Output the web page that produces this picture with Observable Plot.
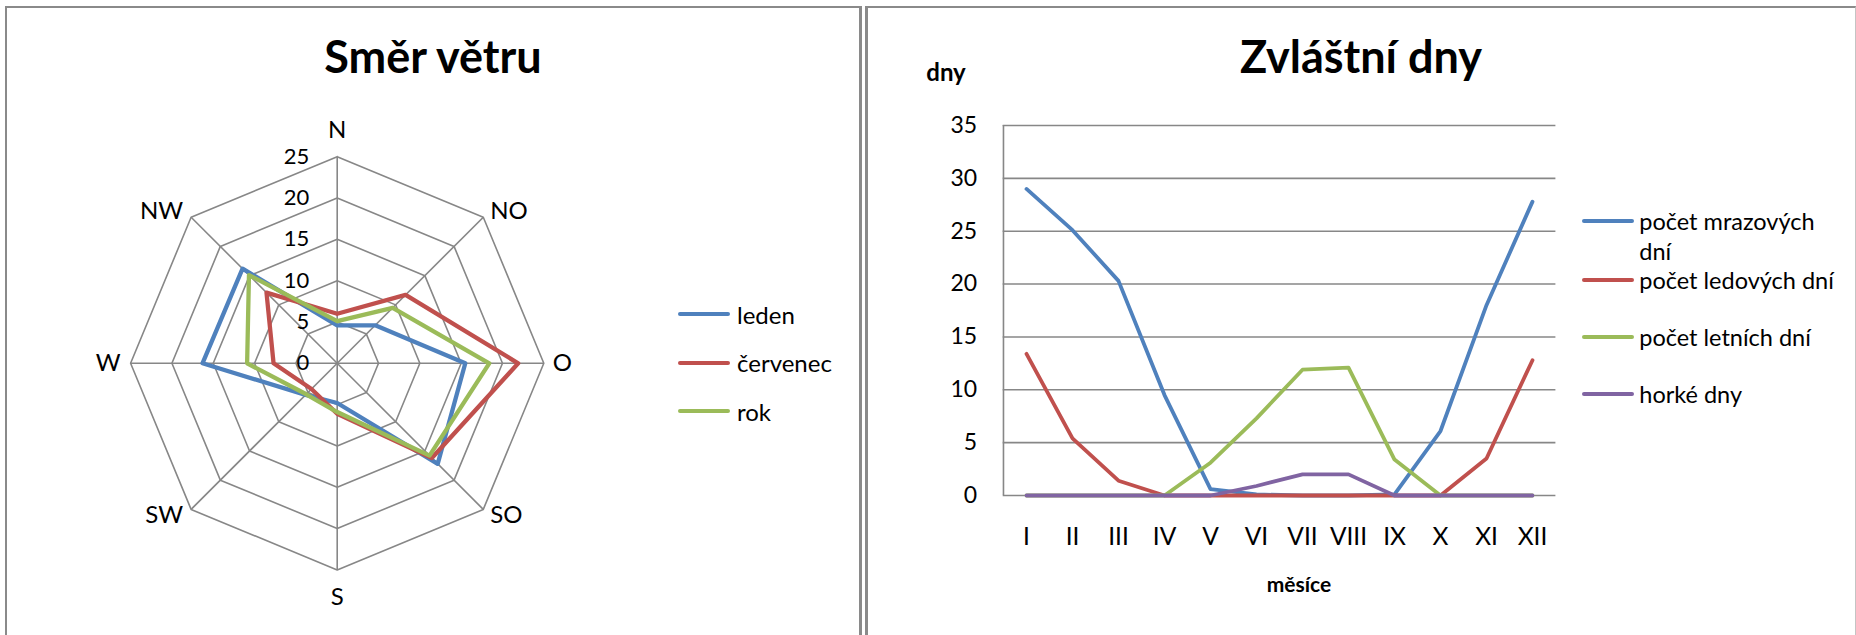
<!DOCTYPE html>
<html>
<head>
<meta charset="utf-8">
<script src="https://cdn.jsdelivr.net/npm/d3@7"></script>
<script src="https://cdn.jsdelivr.net/npm/@observablehq/plot@0.6"></script>
<style>
  html, body { margin: 0; padding: 0; background: #fff; }
  #root { position: relative; width: 1856px; height: 635px; overflow: hidden; background: #fff; font-family: Lato, "Open Sans", sans-serif; color: #000; }
  .panel { position: absolute; box-sizing: border-box; }
  .abs { position: absolute; white-space: nowrap; }
  .title { font-weight: 700; font-size: 45px; line-height: 1.2; transform: translate(-50%, -50%); }
  .lbl { font-size: 24px; }
  .leg { position: absolute; display: flex; align-items: center; }
  .leg .sw { width: 52px; height: 4px; border-radius: 2px; margin-right: 7px; flex: none; }
  svg text { font-family: Lato, "Open Sans", sans-serif; }
</style>
</head>
<body>
<div id="root"></div>
<script>
// ---------- data: radar ("Směr větru") ----------
const directions = ["N", "NO", "O", "SO", "S", "SW", "W", "NW"];
const leden    = [4.6, 6.5, 15.5, 17.2, 4.8, 5.4, 16.3, 16.2];
const cervenec = [6.0, 11.7, 21.9, 16.2, 6.1, 4.4, 7.7, 12.1];
const rok      = [5.1, 9.5, 18.4, 15.8, 5.9, 5.3, 10.9, 15.1];
const radarSeries = ["leden", "červenec", "rok"];
const radarColors = ["#4F81BD", "#C0504D", "#9BBB59"];
const radarTicks = [0, 5, 10, 15, 20, 25];

// ---------- data: line chart ("Zvláštní dny") ----------
const months  = ["I", "II", "III", "IV", "V", "VI", "VII", "VIII", "IX", "X", "XI", "XII"];
const mrazove = [29.0, 25.1, 20.3, 9.5, 0.6, 0.1, 0, 0, 0.1, 6.1, 18.0, 27.8];
const ledove  = [13.4, 5.4, 1.4, 0, 0, 0, 0, 0, 0, 0, 3.5, 12.8];
const letni   = [0, 0, 0, 0, 3.1, 7.3, 11.9, 12.1, 3.4, 0, 0, 0];
const horke   = [0, 0, 0, 0, 0, 0.9, 2.0, 2.0, 0, 0, 0, 0];
const lineSeries = ["počet mrazových dní", "počet ledových dní", "počet letních dní", "horké dny"];
const lineColors = ["#4F81BD", "#C0504D", "#9BBB59", "#8064A2"];
const yTicks = [0, 5, 10, 15, 20, 25, 30, 35];

const root = document.getElementById("root");
const GRID = "#878787";

function addEl(html) {
  const t = document.createElement("div");
  t.innerHTML = html.trim();
  const el = t.firstChild;
  root.appendChild(el);
  return el;
}

// panel frames
addEl(`<div class="panel" style="left:5px;top:6px;width:857px;height:700px;border-left:2px solid #8a8a8a;border-top:2px solid #8a8a8a;border-right:3px solid #8a8a8a;"></div>`);
addEl(`<div class="panel" style="left:865px;top:6px;width:991px;height:700px;border-left:3px solid #8a8a8a;border-top:2px solid #8a8a8a;border-right:1px solid #c4c4c4;"></div>`);

// ---------- radar ----------
const ang = i => i * Math.PI / 4;
const seriesValues = [leden, cervenec, rok];
const radarRows = [];
seriesValues.forEach((vals, s) => {
  for (let k = 0; k <= directions.length; k++) {
    const i = k % directions.length;
    radarRows.push({series: radarSeries[s], dir: directions[i], v: vals[i], x: vals[i] * Math.sin(ang(i)), y: vals[i] * Math.cos(ang(i))});
  }
});
const ringRows = [];
radarTicks.filter(t => t > 0).forEach(t => {
  for (let k = 0; k <= directions.length; k++) {
    const i = k % directions.length;
    ringRows.push({level: t, x: t * Math.sin(ang(i)), y: t * Math.cos(ang(i))});
  }
});
const maxTick = radarTicks[radarTicks.length - 1];
const spokes = directions.map((d, i) => ({dir: d, x: maxTick * Math.sin(ang(i)), y: maxTick * Math.cos(ang(i))}));

const labelAt = (names, opts) => Plot.text(spokes.filter(s => names.includes(s.dir)), {x: "x", y: "y", text: "dir", fontSize: 24, fill: "#000", ...opts});

const radar = Plot.plot({
  width: 870, height: 635,
  marginLeft: 130.1, marginRight: 326.7, marginTop: 156.2, marginBottom: 65.6,
  x: {domain: [-25, 25], axis: null},
  y: {domain: [-25, 25], axis: null},
  color: {domain: radarSeries, range: radarColors},
  marks: [
    Plot.line(ringRows, {x: "x", y: "y", z: "level", stroke: GRID, strokeWidth: 1.6}),
    Plot.link(spokes, {x1: () => 0, y1: () => 0, x2: "x", y2: "y", stroke: GRID, strokeWidth: 1.6}),
    Plot.line(radarRows, {x: "x", y: "y", z: "series", stroke: "series", strokeWidth: 4.3, strokeLinejoin: "round", strokeLinecap: "round"}),
    Plot.text(radarTicks, {x: () => 0, y: d => d, text: d => String(d), textAnchor: "end", dx: -28, fontSize: 22, fill: "#000"}),
    labelAt(["N"], {dy: -26.5}),
    labelAt(["S"], {dy: 27}),
    labelAt(["O"], {textAnchor: "start", dx: 9}),
    labelAt(["W"], {textAnchor: "end", dx: -10}),
    labelAt(["NO"], {textAnchor: "start", dx: 7, dy: -6}),
    labelAt(["SO"], {textAnchor: "start", dx: 7, dy: 6}),
    labelAt(["NW"], {textAnchor: "end", dx: -8, dy: -6}),
    labelAt(["SW"], {textAnchor: "end", dx: -8, dy: 6})
  ]
});
radar.style.position = "absolute";
radar.style.left = "0px";
radar.style.top = "0px";
radar.style.background = "transparent";
root.appendChild(radar);

addEl(`<div class="abs title" style="left:433px;top:56px;">Směr větru</div>`);

// radar legend
const radarLegY = [314, 362.5, 411];
radarSeries.forEach((s, i) => {
  addEl(`<div class="leg lbl" style="left:678px;top:${radarLegY[i] - 16}px;height:32px;"><span class="sw" style="background:${radarColors[i]}"></span><span>${s}</span></div>`);
});

// ---------- line chart ----------
const lineValues = [mrazove, ledove, letni, horke];
const lineRows = [];
lineValues.forEach((vals, s) => vals.forEach((v, i) => lineRows.push({series: lineSeries[s], month: months[i], value: v})));
const plotW = 990, mL = 136.7, mR = 300.6;
const step = (plotW - mL - mR) / months.length;

const lineChart = Plot.plot({
  width: plotW, height: 635,
  marginLeft: mL, marginRight: mR, marginTop: 125, marginBottom: 140,
  x: {type: "point", domain: months, padding: 0.5, axis: null},
  y: {domain: [0, 35], axis: null},
  color: {domain: lineSeries, range: lineColors},
  marks: [
    Plot.ruleY(yTicks, {stroke: GRID, strokeWidth: 1.6}),
    Plot.ruleX([months[0]], {dx: -step / 2, stroke: GRID, strokeWidth: 1.6}),
    Plot.axisY({ticks: yTicks, tickSize: 0, tickPadding: 26, fontSize: 23, label: null, fill: "#000"}),
    Plot.axisX({tickSize: 0, tickPadding: 0, dy: 41.7, lineAnchor: "middle", fontSize: 24.5, label: null, fill: "#000"}),
    Plot.line(lineRows, {x: "month", y: "value", z: "series", stroke: "series", strokeWidth: 3.8, strokeLinejoin: "round", strokeLinecap: "round"})
  ]
});
lineChart.style.position = "absolute";
lineChart.style.left = "866px";
lineChart.style.top = "0px";
lineChart.style.background = "transparent";
root.appendChild(lineChart);

addEl(`<div class="abs title" style="left:1361px;top:56px;">Zvláštní dny</div>`);
addEl(`<div class="abs lbl" style="left:946px;top:71px;font-weight:700;transform:translate(-50%,-50%);">dny</div>`);
addEl(`<div class="abs lbl" style="left:1299px;top:583px;font-weight:700;font-size:21px;transform:translate(-50%,-50%);">měsíce</div>`);

// line legend
const lineLegY = [221, 279.5, 336.5, 393.5];
lineSeries.forEach((s, i) => {
  addEl(`<div class="abs" style="left:1581.7px;top:${lineLegY[i] - 15}px;line-height:30px;font-size:23.5px;white-space:normal;width:270px;">
    <span style="position:absolute;left:0;top:13px;width:52px;height:4px;border-radius:2px;background:${lineColors[i]}"></span>
    <div style="margin-left:57.6px;width:212px;">${s}</div></div>`);
});
</script>
</body>
</html>
